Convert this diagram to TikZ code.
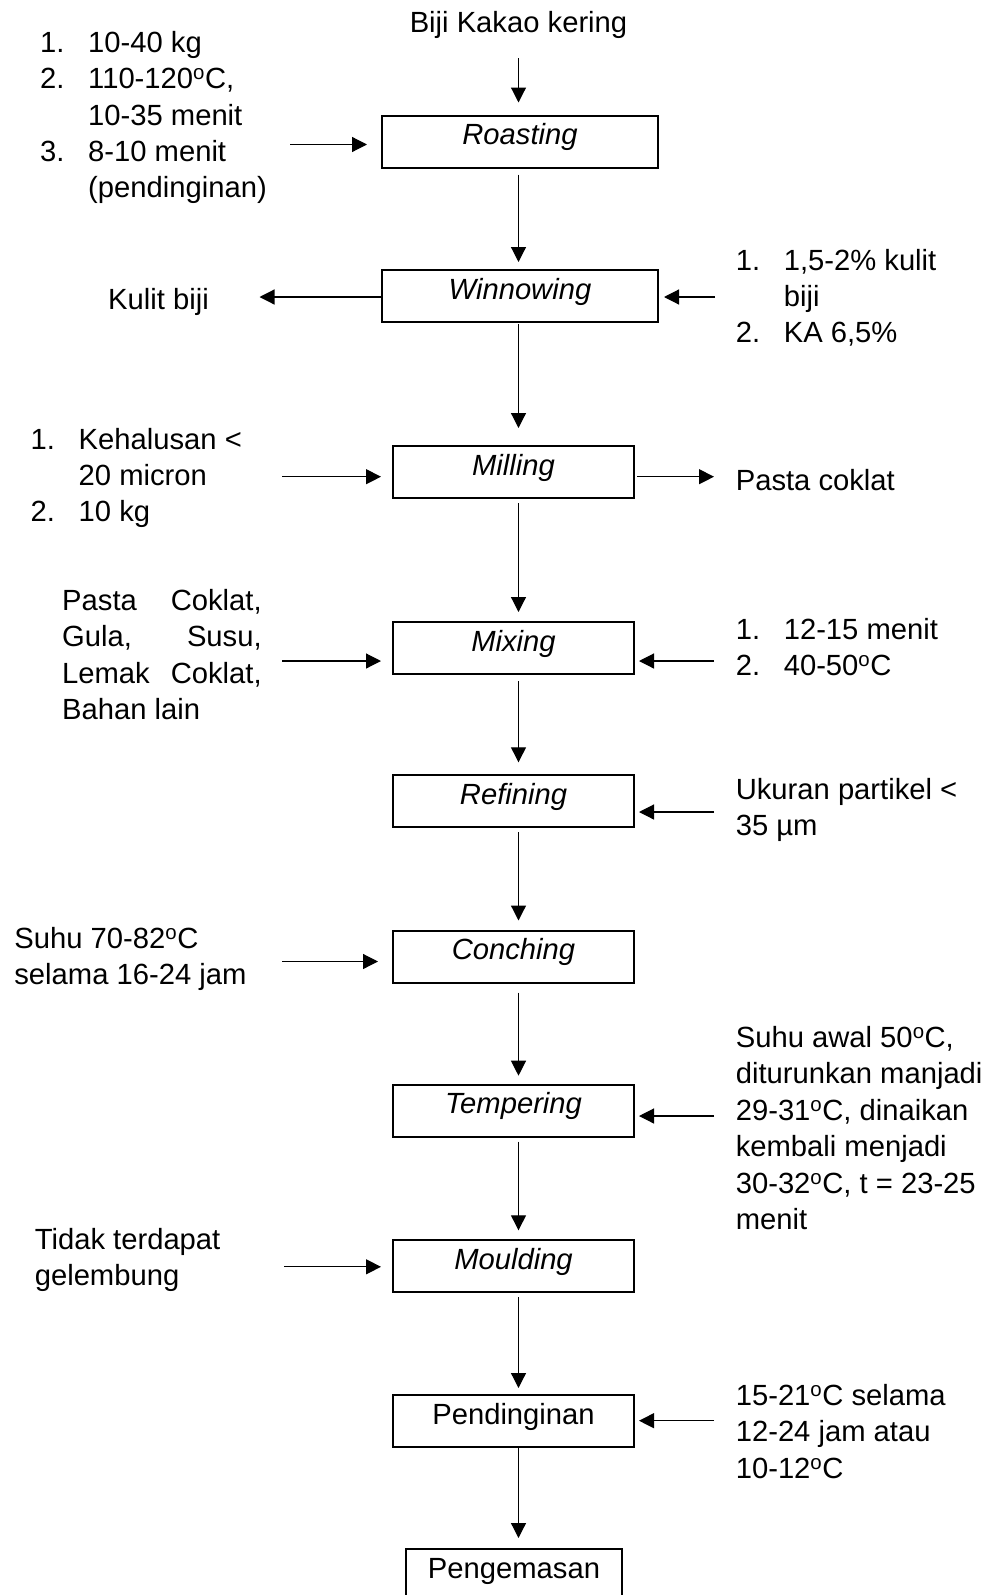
\documentclass[tikz,border=0pt]{standalone}
\usepackage{fontspec}
\setmainfont{Liberation Sans}
\usetikzlibrary{arrows.meta}
\newcommand{\itm}[1]{\makebox[48pt][l]{#1}}
\newcommand{\lines}[1]{\begin{tabular}[t]{@{}l@{}}#1\end{tabular}}
\newcommand{\jline}[1]{\makebox[199.5pt][s]{#1}}
\newcommand{\dg}{\textsuperscript{o}}
\tikzset{
  stage/.style={draw,line width=2pt,minimum height=52pt,inner sep=0pt,text height=21pt,text depth=15pt},
  wide/.style={stage,minimum width=276pt},
  narrow/.style={stage,minimum width=241pt},
  flow/.style={draw,line width=1.2pt,-{Triangle[length=15pt,width=15pt]}},
  down/.style={flow,shorten <=4pt,shorten >=9pt},
  note/.style={anchor=base west,inner sep=0pt}
}
\begin{document}
\begin{tikzpicture}[x=1pt,y=-1pt,font=\fontsize{29.2pt}{36.4pt}\selectfont]
\useasboundingbox (0,0) rectangle (989,1595);
% Process steps
\coordinate (spine) at (518.5,0);
\node[anchor=base,inner sep=0pt] (beans) at (518.5,33) {Biji Kakao kering};
\node[wide] (roast) at (520,141.5) {\itshape Roasting};
\node[wide] (winnow) at (520,296) {\itshape Winnowing};
\node[narrow] (mill) at (513.5,472) {\itshape Milling};
\node[narrow] (mix) at (513.5,648) {\itshape Mixing};
\node[narrow] (refine) at (513.5,801.3) {\itshape Refining};
\node[narrow] (conch) at (513.5,956.5) {\itshape Conching};
\node[narrow] (temper) at (513.5,1110.7) {\itshape Tempering};
\node[narrow] (mould) at (513.5,1266.3) {\itshape Moulding};
\node[narrow] (cool) at (513.5,1421) {Pendinginan};
\node[stage,minimum width=216pt] (pack) at (514,1575) {Pengemasan};
% Main flow
\path[flow,shorten <=19pt,shorten >=12pt] (beans.south -| spine) -- (roast.north -| spine);
\path[down,shorten <=6pt,shorten >=7pt] (roast.south -| spine) -- (winnow.north -| spine);
\path[down,shorten <=1pt,shorten >=17pt] (winnow.south -| spine) -- (mill.north -| spine);
\path[down] (mill.south -| spine) -- (mix.north -| spine);
\path[down,shorten <=6pt,shorten >=12pt] (mix.south -| spine) -- (refine.north -| spine);
\path[down] (refine.south -| spine) -- (conch.north -| spine);
\path[down,shorten <=9pt,shorten >=8pt] (conch.south -| spine) -- (temper.north -| spine);
\path[down] (temper.south -| spine) -- (mould.north -| spine);
\path[down,shorten >=6pt] (mould.south -| spine) -- (cool.north -| spine);
\path[down,shorten <=0pt,shorten >=10pt] (cool.south -| spine) -- (pack.north -| spine);
% Roasting
\node[note] (roastnote) at (40,52.2) {\lines{\itm{1.}10-40 kg\\ \itm{2.}110-120\dg C,\\ \itm{}10-35 menit\\ \itm{3.}8-10 menit\\ \itm{}(pendinginan)}};
\coordinate (roastfeed) at (290,144.5);
\path[flow,shorten >=14pt] (roastfeed) -- (roast.west |- roastfeed);
% Winnowing
\node[note] (husk) at (108,309.7) {Kulit biji};
\coordinate (huskend) at (259.5,297);
\path[flow] (winnow.west |- huskend) -- (huskend);
\node[note] (winnownote) at (735.6,270) {\lines{\itm{1.}1,5-2\% kulit\\ \itm{}biji\\ \itm{2.}KA 6,5\%}};
\coordinate (winnowfeed) at (715,297);
\path[flow,shorten >=5pt] (winnowfeed) -- (winnow.east |- winnowfeed);
% Milling
\node[note] (millnote) at (30.5,449) {\lines{\itm{1.}Kehalusan <\\ \itm{}20 micron\\ \itm{2.}10 kg}};
\coordinate (millfeed) at (282,476.7);
\path[flow,shorten >=11pt] (millfeed) -- (mill.west |- millfeed);
\node[note] (paste) at (735.6,490.5) {Pasta coklat};
\coordinate (pasteend) at (714,476.7);
\path[flow,shorten <=2pt] (mill.east |- pasteend) -- (pasteend);
% Mixing
\node[note] (mixnote) at (62,610.5) {\lines{\jline{Pasta\hfill Coklat,}\\ \jline{Gula,\hfill Susu,}\\ \jline{Lemak\hfill Coklat,}\\ Bahan lain}};
\coordinate (mixfeed) at (282,661);
\path[flow,shorten >=11pt] (mixfeed) -- (mix.west |- mixfeed);
\node[note] (mixcond) at (735.6,639.5) {\lines{\itm{1.}12-15 menit\\ \itm{2.}40-50\dg C}};
\coordinate (mixset) at (714,661);
\path[flow,shorten >=4pt] (mixset) -- (mix.east |- mixset);
% Refining
\node[note] (refinenote) at (735.6,799) {\lines{Ukuran partikel <\\ 35 µm}};
\coordinate (refineset) at (714,812);
\path[flow,shorten >=4pt] (refineset) -- (refine.east |- refineset);
% Conching
\node[note] (conchnote) at (14.2,948.5) {\lines{Suhu 70-82\dg C\\ selama 16-24 jam}};
\coordinate (conchfeed) at (282,961.5);
\path[flow,shorten >=14pt] (conchfeed) -- (conch.west |- conchfeed);
% Tempering
\node[note] (tempernote) at (735.6,1047.5) {\lines{Suhu awal 50\dg C,\\ diturunkan manjadi\\ 29-31\dg C, dinaikan\\ kembali menjadi\\ 30-32\dg C, t = 23-25\\ menit}};
\coordinate (temperset) at (714,1116);
\path[flow,shorten >=4pt] (temperset) -- (temper.east |- temperset);
% Moulding
\node[note] (mouldnote) at (34.6,1249.5) {\lines{Tidak terdapat\\ gelembung}};
\coordinate (mouldfeed) at (284,1266.8);
\path[flow,shorten >=11pt] (mouldfeed) -- (mould.west |- mouldfeed);
% Pendinginan
\node[note] (coolnote) at (735.6,1405.5) {\lines{15-21\dg C selama\\ 12-24 jam atau\\ 10-12\dg C}};
\coordinate (coolset) at (714,1420.7);
\path[flow,shorten >=4pt] (coolset) -- (cool.east |- coolset);
\end{tikzpicture}
\end{document}
